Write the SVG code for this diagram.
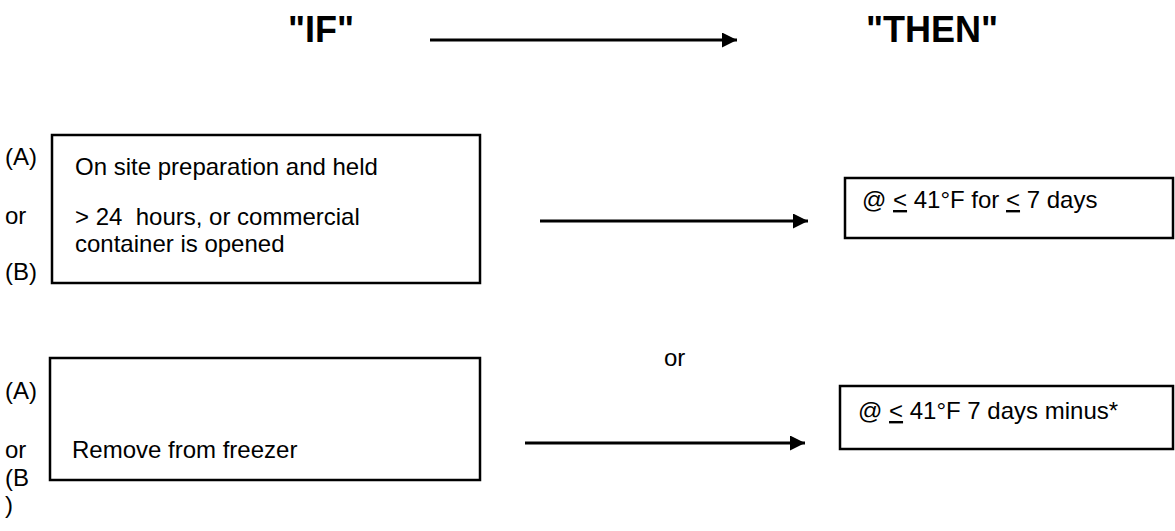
<svg xmlns="http://www.w3.org/2000/svg" width="1175" height="531" viewBox="0 0 1175 531">
<style>
text{font-family:"Liberation Sans",Arial,sans-serif;fill:#000}
.t{font-size:24px}
.h{font-size:36px;font-weight:bold}
.box{fill:#fff;stroke:#000;stroke-width:2.5}
.c{stroke:#000;stroke-width:3;fill:none}
.u{text-decoration:underline}
</style>
<defs>
<marker id="ah" viewBox="0 0 10 10" refX="10" refY="5" markerWidth="5.5" markerHeight="5" markerUnits="strokeWidth" orient="auto">
<path d="M0,0 L10,5 L0,10 z" fill="#000"/>
</marker>
</defs>
<rect width="1175" height="531" fill="#fff"/>
<g id="titles">
<text class="h" x="288" y="42">"IF"</text>
<text class="h" x="866" y="42">"THEN"</text>
</g>
<g id="labels">
<text class="t" x="5" y="165">(A)</text>
<text class="t" x="5" y="224">or</text>
<text class="t" x="5" y="280">(B)</text>
<text class="t" x="664" y="366">or</text>
<text class="t" x="5" y="399">(A)</text>
<text class="t" x="5" y="458">or</text>
<text class="t" x="5" y="486">(B</text>
<text class="t" x="5" y="513">)</text>
</g>
<g id="if1">
<rect class="box" x="52" y="135" width="428" height="148"/>
<text class="t" x="75" y="175">On site preparation and held</text>
<text class="t" x="75" y="225" xml:space="preserve">&gt; 24  hours, or commercial</text>
<text class="t" x="75" y="252">container is opened</text>
</g>
<g id="then1">
<rect class="box" x="845" y="178" width="328" height="60"/>
<text class="t" x="862" y="208">@ <tspan class="u">&lt;</tspan> 41°F for <tspan class="u">&lt;</tspan> 7 days</text>
</g>
<g id="if2">
<rect class="box" x="50" y="358" width="430" height="122"/>
<text class="t" x="72" y="458">Remove from freezer</text>
</g>
<g id="then2">
<rect class="box" x="840" y="386" width="333" height="63"/>
<text class="t" x="858" y="419">@ <tspan class="u">&lt;</tspan> 41°F 7 days minus*</text>
</g>
<g id="connectors">
<line class="c" x1="430" y1="40" x2="737" y2="40" marker-end="url(#ah)"/>
<line class="c" x1="540" y1="221" x2="808" y2="221" marker-end="url(#ah)"/>
<line class="c" x1="525" y1="443" x2="805" y2="443" marker-end="url(#ah)"/>
</g>
</svg>
